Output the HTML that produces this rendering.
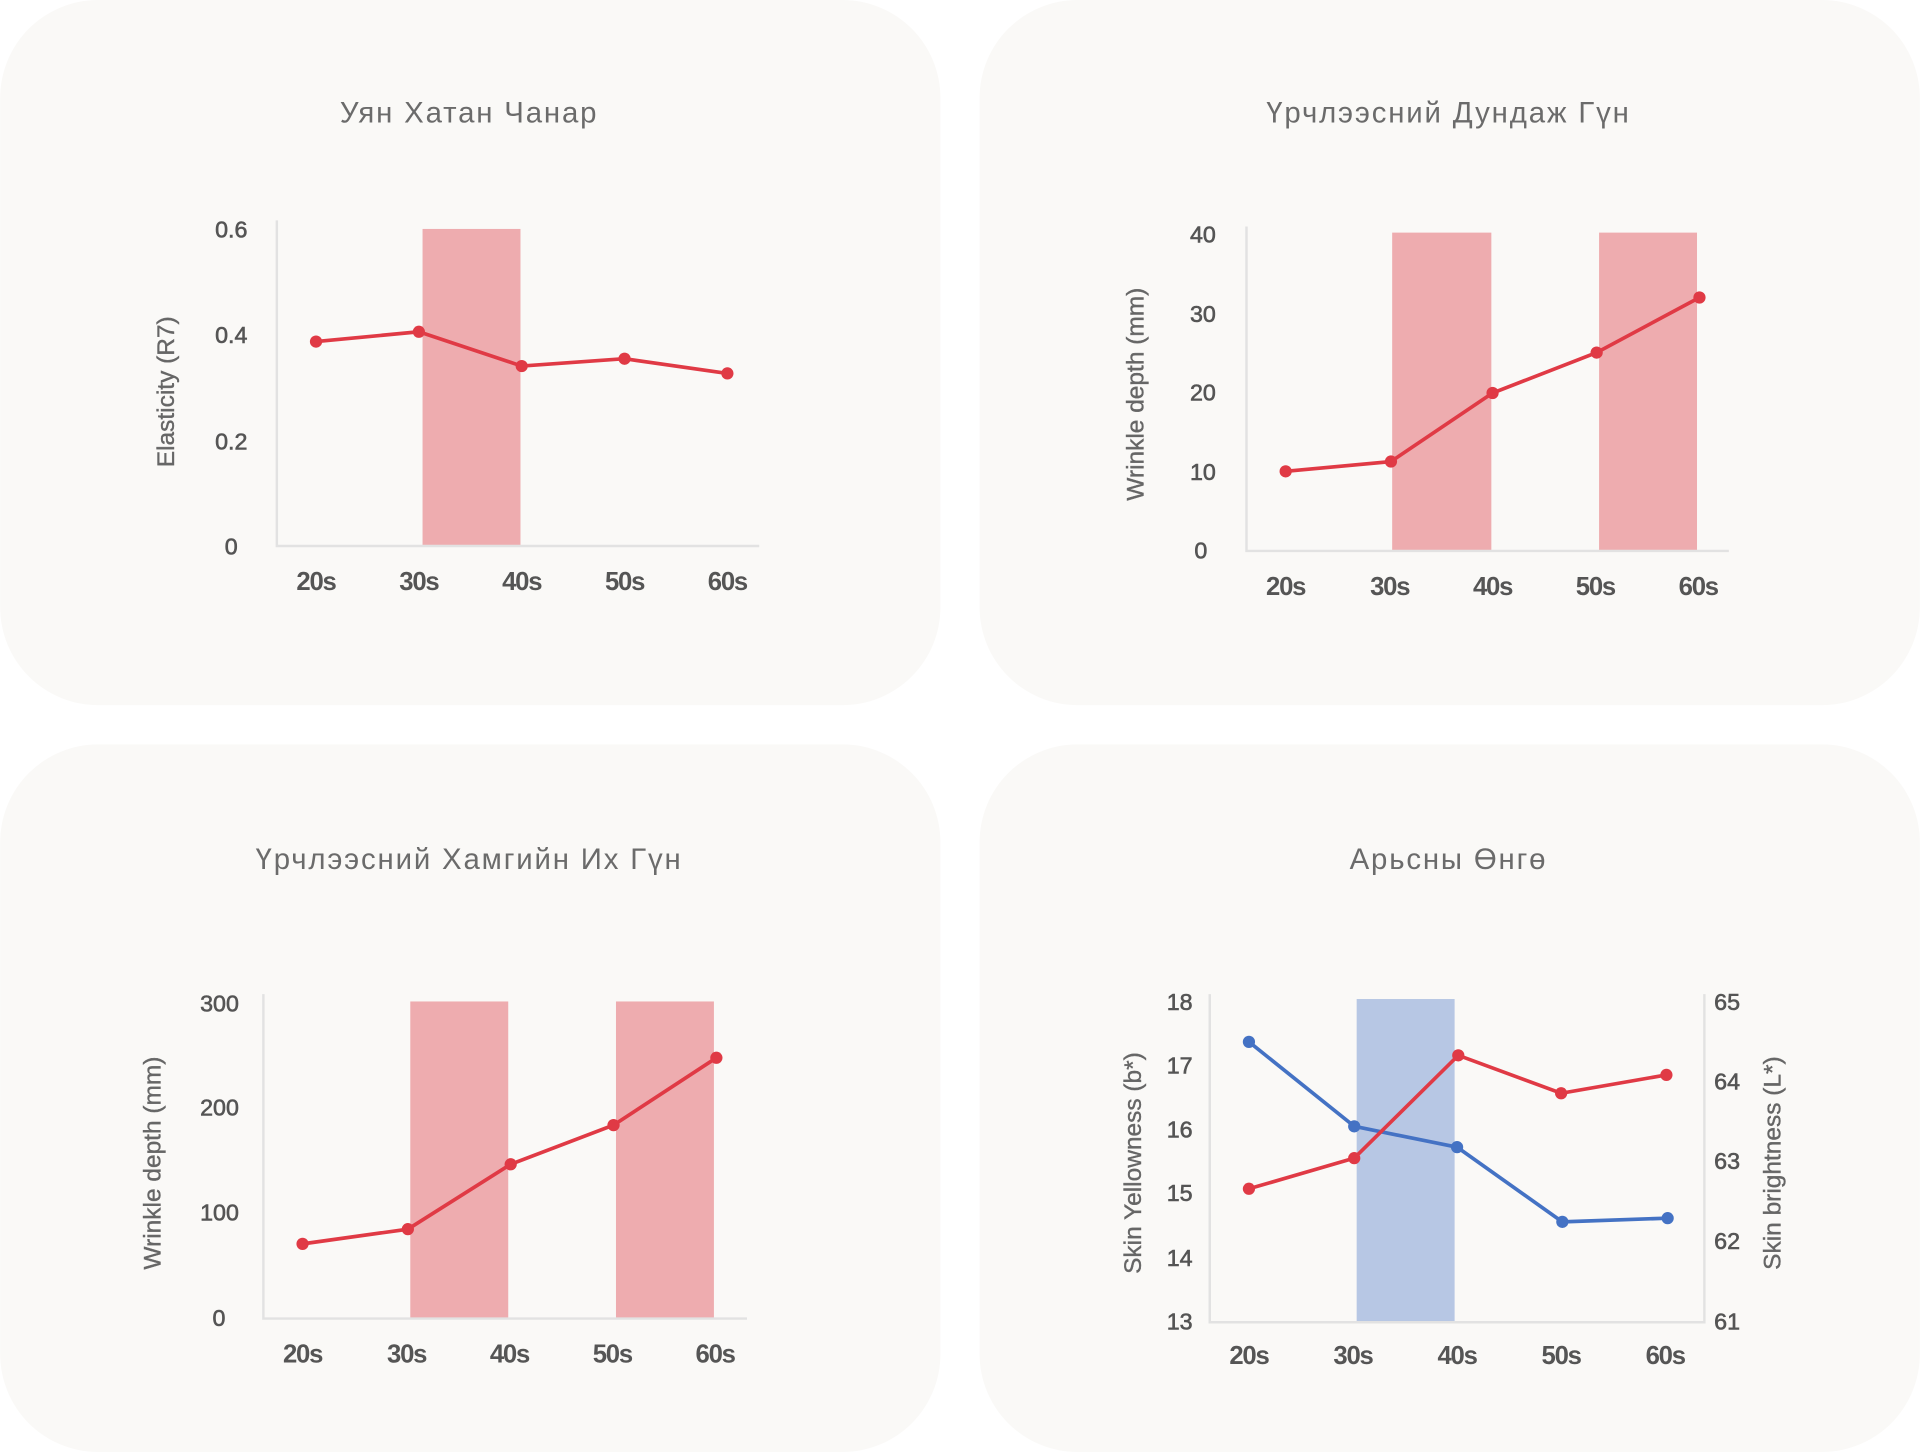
<!DOCTYPE html>
<html><head><meta charset="utf-8"><style>
html,body{margin:0;padding:0;background:#fff;}
svg{display:block;}
text{font-family:"Liberation Sans",sans-serif;}
.t{font-size:24px;fill:#6b6b6b;letter-spacing:1.5px;text-anchor:middle;}
.yl{font-size:19px;fill:#555;text-anchor:end;stroke:#555;stroke-width:0.5;}
.yr{font-size:19px;fill:#555;text-anchor:start;stroke:#555;stroke-width:0.5;}
.xl{font-size:21px;fill:#555;text-anchor:middle;font-weight:bold;letter-spacing:-1px;}
.at{font-size:20px;fill:#666;text-anchor:middle;stroke:#666;stroke-width:0.3;}
.ax{stroke:#e2e2e2;stroke-width:2;fill:none;}
.r{stroke:#e03a45;stroke-width:3;fill:none;}
.b{stroke:#4472c4;stroke-width:3;fill:none;}
</style></head><body>
<svg width="1920" height="1452" viewBox="0 0 1568 1186" xmlns="http://www.w3.org/2000/svg">
<rect x="0" y="0" width="768" height="576" rx="80" fill="#faf9f7"/>
<rect x="800" y="0" width="768" height="576" rx="80" fill="#faf9f7"/>
<rect x="0" y="608" width="768" height="578" rx="80" fill="#faf9f7"/>
<rect x="800" y="608" width="768" height="578" rx="80" fill="#faf9f7"/>

<!-- Chart 1 -->
<text class="t" x="383" y="100">Уян Хатан Чанар</text>
<rect x="345" y="187" width="80" height="259" fill="#eeacaf"/>
<path class="ax" d="M226 180V446H620"/>
<text class="yl" x="202" y="194">0.6</text><text class="yl" x="202" y="280">0.4</text><text class="yl" x="202" y="367">0.2</text><text class="yl" x="194" y="453">0</text>
<text class="xl" x="258" y="482">20s</text><text class="xl" x="342" y="482">30s</text><text class="xl" x="426" y="482">40s</text><text class="xl" x="510" y="482">50s</text><text class="xl" x="594" y="482">60s</text>
<text class="at" transform="translate(142,320) rotate(-90)">Elasticity (R7)</text>
<polyline class="r" points="258,279 342,271 426,299 510,293 594,305"/>
<g fill="#e03a45"><circle cx="258" cy="279" r="5"/><circle cx="342" cy="271" r="5"/><circle cx="426" cy="299" r="5"/><circle cx="510" cy="293" r="5"/><circle cx="594" cy="305" r="5"/></g>

<!-- Chart 2 -->
<text class="t" x="1183" y="100">Үрчлээсний Дундаж Гүн</text>
<rect x="1137" y="190" width="81" height="260" fill="#eeacaf"/>
<rect x="1306" y="190" width="80" height="260" fill="#eeacaf"/>
<path class="ax" d="M1018 185V450H1412"/>
<text class="yl" x="993" y="198">40</text><text class="yl" x="993" y="263">30</text><text class="yl" x="993" y="327">20</text><text class="yl" x="993" y="392">10</text><text class="yl" x="986" y="456">0</text>
<text class="xl" x="1050" y="486">20s</text><text class="xl" x="1135" y="486">30s</text><text class="xl" x="1219" y="486">40s</text><text class="xl" x="1303" y="486">50s</text><text class="xl" x="1387" y="486">60s</text>
<text class="at" transform="translate(934,322) rotate(-90)">Wrinkle depth (mm)</text>
<polyline class="r" points="1050,385 1136,377 1219,321 1304,288 1388,243"/>
<g fill="#e03a45"><circle cx="1050" cy="385" r="5"/><circle cx="1136" cy="377" r="5"/><circle cx="1219" cy="321" r="5"/><circle cx="1304" cy="288" r="5"/><circle cx="1388" cy="243" r="5"/></g>

<!-- Chart 3 -->
<text class="t" x="383" y="710">Үрчлээсний Хамгийн Их Гүн</text>
<rect x="335" y="818" width="80" height="259" fill="#eeacaf"/>
<rect x="503" y="818" width="80" height="259" fill="#eeacaf"/>
<path class="ax" d="M215 812V1077H610"/>
<text class="yl" x="195" y="826">300</text><text class="yl" x="195" y="911">200</text><text class="yl" x="195" y="997">100</text><text class="yl" x="184" y="1083">0</text>
<text class="xl" x="247" y="1113">20s</text><text class="xl" x="332" y="1113">30s</text><text class="xl" x="416" y="1113">40s</text><text class="xl" x="500" y="1113">50s</text><text class="xl" x="584" y="1113">60s</text>
<text class="at" transform="translate(131,950) rotate(-90)">Wrinkle depth (mm)</text>
<polyline class="r" points="247,1016 333,1004 417,951 501,919 585,864"/>
<g fill="#e03a45"><circle cx="247" cy="1016" r="5"/><circle cx="333" cy="1004" r="5"/><circle cx="417" cy="951" r="5"/><circle cx="501" cy="919" r="5"/><circle cx="585" cy="864" r="5"/></g>

<!-- Chart 4 -->
<text class="t" x="1183" y="710">Арьсны Өнгө</text>
<rect x="1108" y="816" width="80" height="264" fill="#b7c7e4"/>
<path class="ax" d="M988 812V1080H1392V812"/>
<text class="yl" x="974" y="825">18</text><text class="yl" x="974" y="877">17</text><text class="yl" x="974" y="929">16</text><text class="yl" x="974" y="981">15</text><text class="yl" x="974" y="1034">14</text><text class="yl" x="974" y="1086">13</text>
<text class="yr" x="1400" y="825">65</text><text class="yr" x="1400" y="890">64</text><text class="yr" x="1400" y="955">63</text><text class="yr" x="1400" y="1020">62</text><text class="yr" x="1400" y="1086">61</text>
<text class="xl" x="1020" y="1114">20s</text><text class="xl" x="1105" y="1114">30s</text><text class="xl" x="1190" y="1114">40s</text><text class="xl" x="1275" y="1114">50s</text><text class="xl" x="1360" y="1114">60s</text>
<text class="at" transform="translate(932,950) rotate(-90)">Skin Yellowness (b*)</text>
<text class="at" transform="translate(1454,950) rotate(-90)">Skin brightness (L*)</text>
<polyline class="b" points="1020,851 1106,920 1190,937 1276,998 1362,995"/>
<g fill="#4472c4"><circle cx="1020" cy="851" r="5"/><circle cx="1106" cy="920" r="5"/><circle cx="1190" cy="937" r="5"/><circle cx="1276" cy="998" r="5"/><circle cx="1362" cy="995" r="5"/></g>
<polyline class="r" points="1020,971 1106,946 1191,862 1275,893 1361,878"/>
<g fill="#e03a45"><circle cx="1020" cy="971" r="5"/><circle cx="1106" cy="946" r="5"/><circle cx="1191" cy="862" r="5"/><circle cx="1275" cy="893" r="5"/><circle cx="1361" cy="878" r="5"/></g>
</svg>
</body></html>
